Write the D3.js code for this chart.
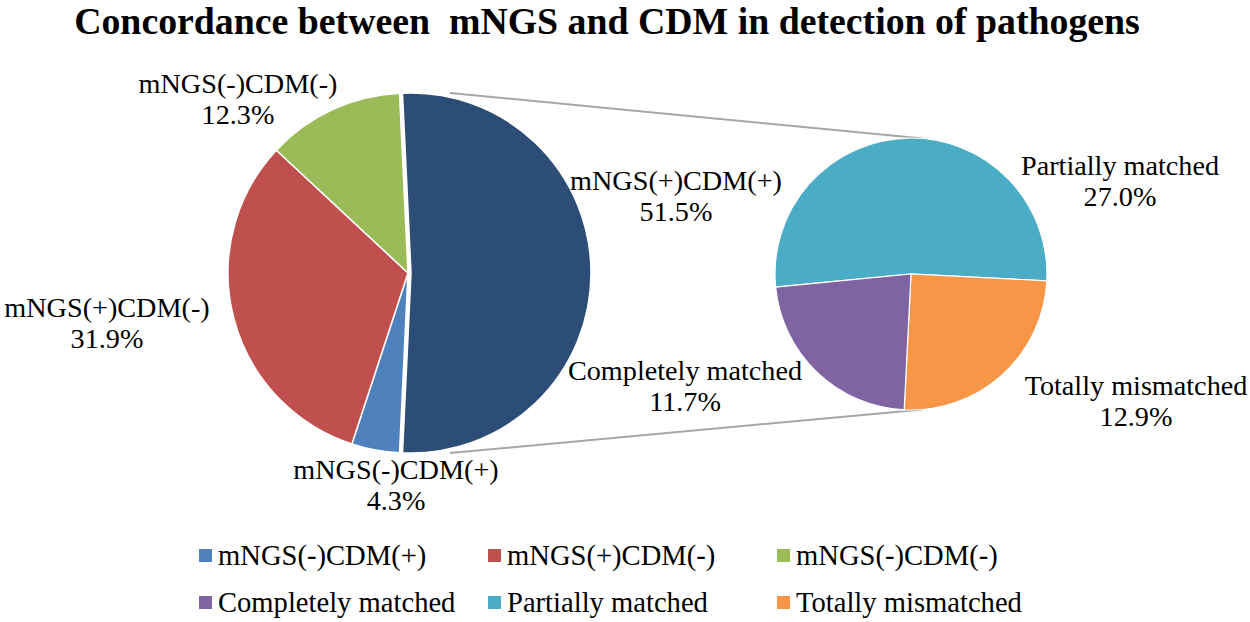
<!DOCTYPE html>
<html>
<head>
<meta charset="utf-8">
<script src="https://d3js.org/d3.v7.min.js"></script>
</head>
<body style="margin:0; background:#fff">
<div class="vis"></div>
<script>
  // data
  var mainLabels = ["mNGS(+)CDM(+)", "mNGS(-)CDM(+)", "mNGS(+)CDM(-)", "mNGS(-)CDM(-)"];
  var mainValues = [51.5, 4.3, 31.9, 12.3];
  var subLabels = ["Partially matched", "Totally mismatched", "Completely matched"];
  var subValues = [27.0, 12.9, 11.7];
  var legendOrder = ["mNGS(-)CDM(+)", "mNGS(+)CDM(-)", "mNGS(-)CDM(-)",
                     "Completely matched", "Partially matched", "Totally mismatched"];

  var colors = {
    "mNGS(+)CDM(+)": "#2c4d75",
    "mNGS(-)CDM(+)": "#4f81bd",
    "mNGS(+)CDM(-)": "#c0504d",
    "mNGS(-)CDM(-)": "#9bbb59",
    "Partially matched": "#4bacc6",
    "Totally mismatched": "#f79646",
    "Completely matched": "#8064a2"
  };

  // layout
  var width = 1250, height = 622;
  var font = 'Liberation Serif';
  var main = {cx: 408, cy: 273, r: 180};
  var sub = {cx: 911, cy: 274, r: 136};
  var lineGap = 31;
  // label offsets from the pie centre (first line baseline)
  var mainLabelPos = [[268, -83], [-12, 206], [-301, 44], [-170, -180]];
  var subLabelPos = [[209, -99], [225, 121], [-226, 106]];

  var svg = d3.select('.vis').append('svg')
    .attr('width', width)
    .attr('height', height);

  // title
  svg.append('text')
    .attr('x', 607)
    .attr('y', 34)
    .attr('text-anchor', 'middle')
    .attr('font-family', font)
    .attr('font-size', 37.8)
    .attr('font-weight', 'bold')
    .text('Concordance between\u00a0 mNGS and CDM in detection of pathogens');

  var total = d3.sum(mainValues);
  var splitShare = mainValues[0] / total;
  // split slice centred on the right side
  var mainStart = Math.PI / 2 - splitShare * Math.PI;

  var mainPie = d3.pie().sort(null)
    .startAngle(mainStart)
    .endAngle(mainStart + 2 * Math.PI);
  var subPie = d3.pie().sort(null)
    .startAngle(-95.5 * Math.PI / 180)
    .endAngle(-95.5 * Math.PI / 180 + 2 * Math.PI);

  var mainArcs = mainPie(mainValues);
  var subArcs = subPie(subValues);

  // connector lines
  var subTopAngle = 5 * Math.PI / 180;
  var subBotAngle = 175 * Math.PI / 180;
  var connectors = [
    [[main.cx + 42, main.cy - main.r], [sub.cx + sub.r * Math.sin(subTopAngle), sub.cy - sub.r * Math.cos(subTopAngle)]],
    [[main.cx + 42, main.cy + main.r], [sub.cx + sub.r * Math.sin(subBotAngle), sub.cy - sub.r * Math.cos(subBotAngle)]]
  ];
  svg.selectAll('.conn')
    .data(connectors)
    .enter()
    .append('path')
    .attr('class', 'conn')
    .attr('d', d3.line())
    .attr('stroke', '#a6a6a6')
    .attr('stroke-width', 2)
    .attr('fill', 'none');

  var mainArc = d3.arc().innerRadius(0).outerRadius(main.r);
  var subArc = d3.arc().innerRadius(0).outerRadius(sub.r);

  var gMain = svg.append('g').attr('transform', 'translate(' + main.cx + ',' + main.cy + ')');
  gMain.selectAll('path')
    .data(mainArcs)
    .enter()
    .append('path')
    .attr('d', mainArc)
    .attr('fill', function (d, i) { return colors[mainLabels[i]]; })
    .attr('stroke', 'white')
    .attr('stroke-width', 1.5)
    .attr('transform', function (d, i) {
      if (i !== 0) return null;
      var mid = (d.startAngle + d.endAngle) / 2;
      return 'translate(' + (3 * Math.sin(mid)) + ',' + (-3 * Math.cos(mid)) + ')';
    });

  var gSub = svg.append('g').attr('transform', 'translate(' + sub.cx + ',' + sub.cy + ')');
  gSub.selectAll('path')
    .data(subArcs)
    .enter()
    .append('path')
    .attr('d', subArc)
    .attr('fill', function (d, i) { return colors[subLabels[i]]; })
    .attr('stroke', 'white')
    .attr('stroke-width', 1.2);

  // data labels
  function addLabels(g, labels, values, pos) {
    var lab = g.selectAll('.lab')
      .data(labels)
      .enter()
      .append('text')
      .attr('class', 'lab')
      .attr('text-anchor', 'middle')
      .attr('font-family', font)
      .attr('font-size', 28.2);
    lab.append('tspan')
      .attr('x', function (d, i) { return pos[i][0]; })
      .attr('y', function (d, i) { return pos[i][1]; })
      .text(function (d) { return d; });
    lab.append('tspan')
      .attr('x', function (d, i) { return pos[i][0]; })
      .attr('y', function (d, i) { return pos[i][1] + lineGap; })
      .text(function (d, i) { return values[i].toFixed(1) + '%'; });
  }
  addLabels(gMain, mainLabels, mainValues, mainLabelPos);
  addLabels(gSub, subLabels, subValues, subLabelPos);

  // legend
  var legX = d3.scalePoint().domain([0, 1, 2]).range([199, 777]);
  var legY = d3.scalePoint().domain([0, 1]).range([556, 603]);
  var leg = svg.selectAll('.leg')
    .data(legendOrder)
    .enter()
    .append('g')
    .attr('class', 'leg')
    .attr('transform', function (d, i) {
      return 'translate(' + legX(i % 3) + ',' + legY(Math.floor(i / 3)) + ')';
    });
  leg.append('rect')
    .attr('x', 0)
    .attr('y', -7)
    .attr('width', 13)
    .attr('height', 13)
    .attr('fill', function (d) { return colors[d]; });
  leg.append('text')
    .attr('x', 19)
    .attr('y', 9)
    .attr('font-family', font)
    .attr('font-size', 28.6)
    .text(function (d) { return d; });
</script>
</body>
</html>
